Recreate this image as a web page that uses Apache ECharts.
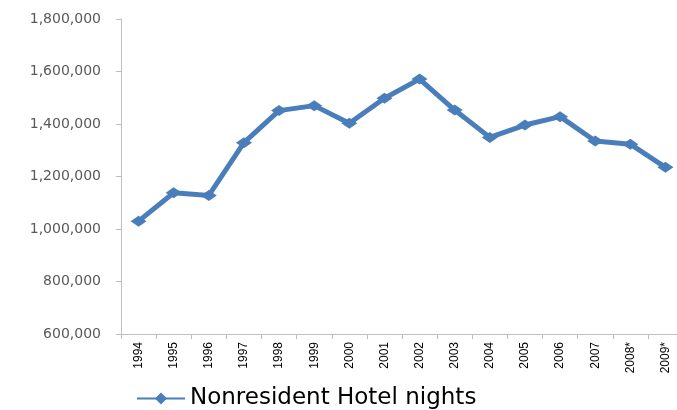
<!DOCTYPE html>
<html>
<head>
<meta charset="utf-8">
<script src="https://cdn.jsdelivr.net/npm/echarts@6/dist/echarts.min.js"></script>
<style>
  html, body { margin: 0; padding: 0; background: #fff; }
  #chart { width: 677px; height: 410px; }
</style>
</head>
<body>
<div id="chart"></div>
<script>
// years on the category axis
var years = ['1994', '1995', '1996', '1997', '1998', '1999', '2000', '2001',
  '2002', '2003', '2004', '2005', '2006', '2007', '2008*', '2009*']
// nonresident hotel nights
var hotelNights = [1030000, 1138000, 1128000, 1329000, 1451000, 1470000, 1403000, 1498000,
  1571000, 1453000, 1349000, 1396000, 1428000, 1335000, 1323000, 1235000]
var seriesName = 'Nonresident Hotel nights'
var yMin = 600000
var yMax = 1800000
var yStep = 200000

var chart = echarts.init(document.getElementById('chart'))
var option = {
  animation: false,
  grid: {
    left: 121,
    top: 19,
    width: 562,
    height: 315,
    containLabel: false,
    outerBoundsMode: 'none'
  },
  legend: {
    data: [seriesName],
    left: 131,
    top: 382,
    itemWidth: 48,
    itemHeight: 15,
    itemGap: 4,
    textStyle: {
      fontFamily: 'DejaVu Sans',
      fontSize: 23,
      color: '#000'
    }
  },
  xAxis: {
    type: 'category',
    data: years,
    boundaryGap: true,
    axisLine: { lineStyle: { color: '#bfbfbf', width: 1 } },
    axisTick: { show: true, length: 5, lineStyle: { color: '#bfbfbf' } },
    axisLabel: {
      interval: 0,
      rotate: 90,
      margin: 8,
      fontFamily: 'Liberation Sans Narrow, Liberation Sans',
      fontSize: 12,
      color: '#000'
    },
    splitLine: { show: false }
  },
  yAxis: {
    type: 'value',
    min: yMin,
    max: yMax,
    interval: yStep,
    axisLine: { show: true, lineStyle: { color: '#bfbfbf', width: 1 } },
    axisTick: { show: true, length: 5, lineStyle: { color: '#bfbfbf' } },
    axisLabel: {
      margin: 20,
      fontFamily: 'DejaVu Sans',
      fontSize: 14,
      color: '#595959',
      formatter: function (v) {
        return v.toLocaleString('en-US')
      }
    },
    splitLine: { show: false }
  },
  series: [
    {
      name: seriesName,
      type: 'line',
      data: hotelNights,
      symbol: 'diamond',
      symbolSize: [16, 11],
      showAllSymbol: true,
      lineStyle: { color: '#4a7ebb', width: 5 },
      itemStyle: { color: '#4a7ebb' }
    }
  ]
}
chart.setOption(option)
</script>
</body>
</html>
